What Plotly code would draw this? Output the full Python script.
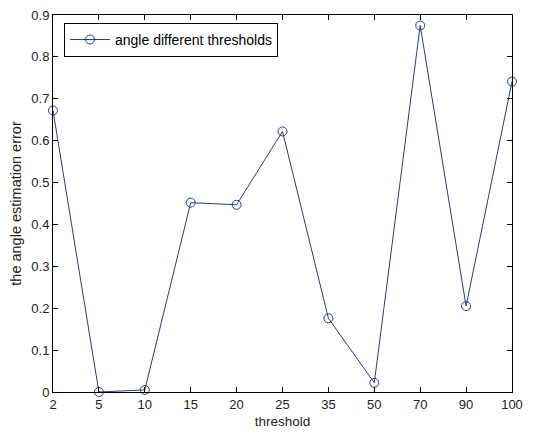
import plotly.graph_objects as go

thresholds = ["2", "5", "10", "15", "20", "25", "35", "50", "70", "90", "100"]
errors = [0.672, 0.0, 0.005, 0.452, 0.447, 0.622, 0.176, 0.022, 0.875, 0.205, 0.741]
y_ticks = [0, 0.1, 0.2, 0.3, 0.4, 0.5, 0.6, 0.7, 0.8, 0.9]
y_tick_labels = ["0", "0.1", "0.2", "0.3", "0.4", "0.5", "0.6", "0.7", "0.8", "0.9"]

line_color = "#2a3a8a"
fam = "Liberation Sans, Arial, sans-serif"

fig = go.Figure()
fig.add_trace(go.Scatter(
    x=thresholds, y=errors, mode="lines+markers",
    name="angle different thresholds",
    line=dict(color=line_color, width=1),
    marker=dict(symbol="circle-open", size=9, color=line_color, line=dict(width=1)),
    cliponaxis=False,
))

tick_font = dict(family=fam, size=13, color="#222")

fig.update_layout(
    width=542, height=437,
    margin=dict(l=45, r=38, t=7, b=53),
    paper_bgcolor="white", plot_bgcolor="white",
    font=tick_font,
    showlegend=True,
    legend=dict(
        x=0.024, y=0.979, xanchor="left", yanchor="top",
        bordercolor="black", borderwidth=1, bgcolor="white",
        font=dict(family=fam, size=14, color="black"),
        itemwidth=40, tracegroupgap=0,
    ),
    xaxis=dict(
        type="category", range=[0, 10], automargin=False,
        showgrid=False, zeroline=False,
        showline=True, linecolor="black", linewidth=1, mirror="ticks",
        ticks="inside", ticklen=5, tickcolor="black",
        tickfont=tick_font, ticklabeloverflow="allow",
        title=dict(text="threshold", font=dict(family=fam, size=13.5, color="#222"), standoff=5),
    ),
    yaxis=dict(
        range=[0, 0.9], tickvals=y_ticks, ticktext=y_tick_labels, automargin=False,
        showgrid=False, zeroline=False,
        showline=True, linecolor="black", linewidth=1, mirror="ticks",
        ticks="inside", ticklen=5, tickcolor="black",
        tickfont=tick_font, ticklabeloverflow="allow",
        title=dict(text="the angle estimation error", font=dict(family=fam, size=14.5, color="#222"), standoff=10),
    ),
)

fig.write_html("out.html")
